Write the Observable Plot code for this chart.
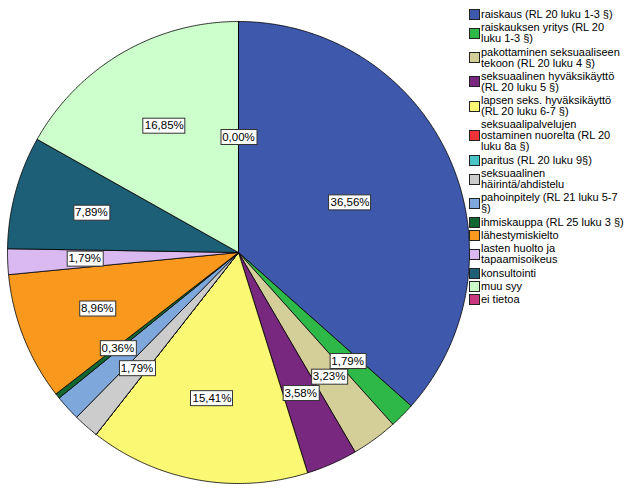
<!DOCTYPE html>
<html>
<head>
<meta charset="utf-8">
<script src="https://cdn.jsdelivr.net/npm/d3@7"></script>
<script src="https://cdn.jsdelivr.net/npm/@observablehq/plot@0.6"></script>
<style>
  html, body { margin: 0; padding: 0; background: #fff; }
  #wrap { position: relative; width: 629px; height: 504px; }
  #legend { position: absolute; left: 469px; top: 9px; font-family: "Liberation Sans", Arial, sans-serif; font-size: 11px; line-height: 11px; color: #000; }
  .item { display: flex; align-items: center; margin-bottom: 2.3px; }
  .sw { width: 9px; height: 9px; border: 1px solid #222; margin-right: 1px; flex: none; }
  .lab { white-space: pre; }
</style>
</head>
<body>
<div id="wrap"><div id="legend"></div></div>
<script>
const categories = [
  "raiskaus (RL 20 luku 1-3 §)",
  "raiskauksen yritys (RL 20\nluku 1-3 §)",
  "pakottaminen seksuaaliseen\ntekoon (RL 20 luku 4 §)",
  "seksuaalinen hyväksikäyttö\n(RL 20 luku 5 §)",
  "lapsen seks. hyväksikäyttö\n(RL 20 luku 6-7 §)",
  "seksuaalipalvelujen\nostaminen nuorelta (RL 20\nluku 8a §)",
  "paritus (RL 20 luku 9§)",
  "seksuaalinen\nhäirintä/ahdistelu",
  "pahoinpitely (RL 21 luku 5-7\n§)",
  "ihmiskauppa (RL 25 luku 3 §)",
  "lähestymiskielto",
  "lasten huolto ja\ntapaamisoikeus",
  "konsultointi",
  "muu syy",
  "ei tietoa"
];
const values = [36.56, 1.79, 3.23, 3.58, 15.41, 0, 0, 1.79, 1.79, 0.36, 8.96, 1.79, 7.89, 16.85, 0];
const colors = ["#3E58AC", "#2EB848", "#D4CE99", "#78287E", "#FBF874", "#EF3338", "#48C3C6", "#CCCCCC",
                "#7EA8DC", "#116632", "#F8981D", "#DAB8F0", "#1C5F76", "#CCFFCC", "#C8377F"];
const showLabel = [true, true, true, true, true, false, false, true, false, true, true, true, true, true, true];

const pie = d3.pie().sort(null).startAngle(0).endAngle(2 * Math.PI)(values);

// slice polygons in unit-circle coordinates
const pts = [];
pie.forEach((s, i) => {
  pts.push({x: 0, y: 0, i});
  const n = Math.max(1, Math.ceil((s.endAngle - s.startAngle) / (Math.PI / 360)));
  for (let k = 0; k <= n; k++) {
    const a = s.startAngle + (s.endAngle - s.startAngle) * k / n;
    pts.push({x: Math.sin(a), y: Math.cos(a), i});
  }
  pts.push({x: 0, y: 0, i});
});

const labels = pie.map((s, i) => {
  const h = (s.endAngle - s.startAngle) / 2;
  const m = (s.startAngle + s.endAngle) / 2;
  const r = h > 0 ? (2 / 3) * Math.sin(h) / h : 0.5;
  return {x: r * Math.sin(m), y: r * Math.cos(m), t: values[i].toFixed(2).replace(".", ",") + "%", i};
}).filter(d => showLabel[d.i]);

const chart = Plot.plot({
  width: 470, height: 504,
  marginLeft: 7, marginRight: 1, marginTop: 21, marginBottom: 21,
  x: {domain: [-1, 1], axis: null},
  y: {domain: [-1, 1], axis: null},
  color: {type: "identity"},
  style: {fontFamily: "Liberation Sans, Arial, sans-serif", background: "#fff"},
  marks: [
    Plot.line(pts, {x: "x", y: "y", z: "i", fill: d => colors[d.i], stroke: "#000", strokeWidth: 0.8, strokeLinejoin: "round"}),
    Plot.text(labels, {x: "x", y: "y", text: "t", fontSize: 11.5, fill: "#000"})
  ]
});
chart.style.position = "absolute";
chart.style.left = "0px";
chart.style.top = "0px";
document.getElementById("wrap").prepend(chart);

// boxes behind value labels
chart.querySelectorAll('g[aria-label="text"] text').forEach(t => {
  const b = t.getBBox();
  const r = document.createElementNS("http://www.w3.org/2000/svg", "rect");
  r.setAttribute("x", Math.round(b.x) - 1.5);
  r.setAttribute("y", Math.round(b.y) - 1.5);
  r.setAttribute("width", Math.round(b.width) + 3);
  r.setAttribute("height", Math.round(b.height) + 3);
  r.setAttribute("fill", "#fff");
  r.setAttribute("stroke", "#333");
  r.setAttribute("stroke-width", "1");
  const tr = t.getAttribute("transform");
  if (tr) r.setAttribute("transform", tr);
  t.parentNode.insertBefore(r, t);
});

// legend
const legend = document.getElementById("legend");
categories.forEach((c, i) => {
  const it = document.createElement("div");
  it.className = "item";
  const sw = document.createElement("span");
  sw.className = "sw";
  sw.style.background = colors[i];
  const lb = document.createElement("span");
  lb.className = "lab";
  lb.textContent = c;
  it.append(sw, lb);
  legend.append(it);
});
</script>
</body>
</html>
